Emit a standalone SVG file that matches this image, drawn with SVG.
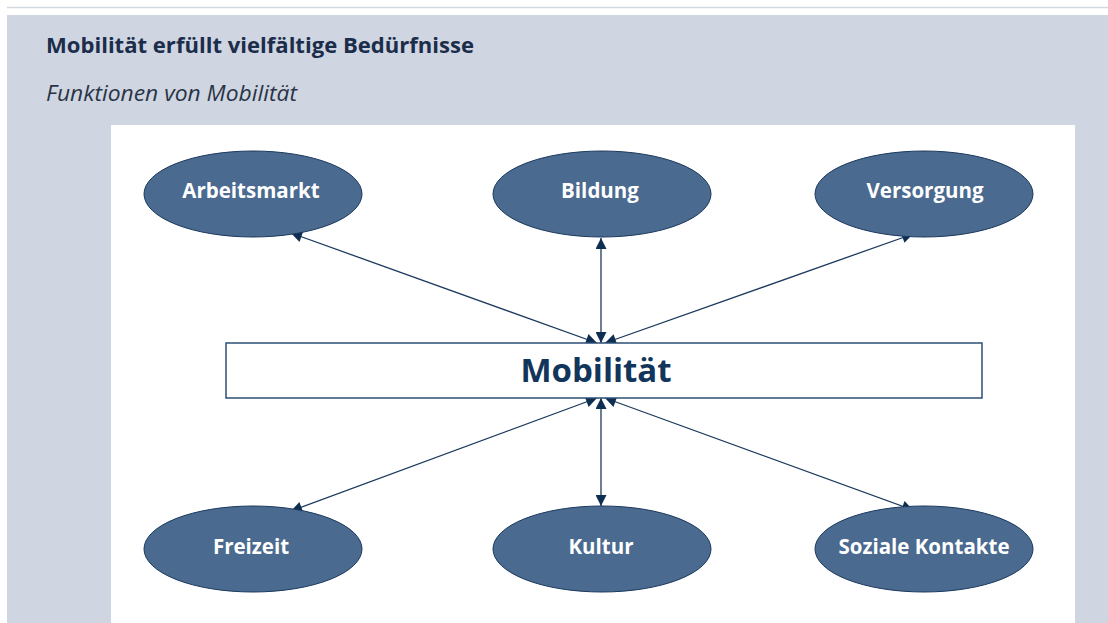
<svg xmlns="http://www.w3.org/2000/svg" width="1108" height="623" viewBox="0 0 1108 623">
<style>
.node ellipse{fill:#4a6a8f;stroke:#1c3a5e;stroke-width:1}
.node text{font-family:"Open Sans","Noto Sans",sans-serif;font-weight:bold;font-size:20.5px;fill:#ffffff;text-anchor:middle}
.conn line{stroke:#1c3a5e;stroke-width:1.3;marker-start:url(#ah);marker-end:url(#ah)}
</style>
<defs>
<marker id="ah" viewBox="0 0 10 10" refX="10" refY="5" markerWidth="15" markerHeight="11" markerUnits="userSpaceOnUse" orient="auto-start-reverse">
<path d="M0,0 L10,5 L0,10 Z" fill="#0f2f52"/>
</marker>
</defs>
<rect x="0" y="0" width="1108" height="623" fill="#ffffff"/>
<line x1="7" y1="7.5" x2="1108" y2="7.5" stroke="#d3d9e1" stroke-width="1.5"/>
<rect x="7" y="15" width="1101" height="608" fill="#cfd6e1"/>
<rect x="111" y="125" width="964" height="498" fill="#ffffff"/>
<text x="46" y="53" font-family="Open Sans, Noto Sans, sans-serif" font-weight="bold" font-size="21" fill="#1b2d4a" textLength="428" lengthAdjust="spacingAndGlyphs">Mobilität erfüllt vielfältige Bedürfnisse</text>
<text x="46" y="101" font-family="Open Sans, Noto Sans, sans-serif" font-style="italic" font-size="21" fill="#2a3447" textLength="251" lengthAdjust="spacingAndGlyphs">Funktionen von Mobilität</text>
<g id="connectors" class="conn">
<line x1="291" y1="233" x2="597" y2="343"/>
<line x1="601" y1="238" x2="601" y2="343"/>
<line x1="913" y1="234" x2="605" y2="343"/>
<line x1="597" y1="398" x2="291" y2="511"/>
<line x1="601" y1="398" x2="601" y2="506"/>
<line x1="605" y1="398" x2="913" y2="510"/>
</g>
<g id="mobilitaet">
<rect x="226" y="343" width="756" height="55" fill="#ffffff" stroke="#2c4f75" stroke-width="1.5"/>
<text x="596" y="382" font-family="Open Sans, Noto Sans, sans-serif" font-weight="bold" font-size="33" fill="#12355b" text-anchor="middle">Mobilität</text>
</g>
<g id="arbeitsmarkt" class="node"><ellipse cx="253" cy="194" rx="109" ry="43"/><text x="251" y="198">Arbeitsmarkt</text></g>
<g id="bildung" class="node"><ellipse cx="602" cy="194" rx="109" ry="43"/><text x="600" y="198">Bildung</text></g>
<g id="versorgung" class="node"><ellipse cx="924" cy="194" rx="109" ry="43"/><text x="925" y="198">Versorgung</text></g>
<g id="freizeit" class="node"><ellipse cx="253" cy="549" rx="109" ry="43"/><text x="251" y="554">Freizeit</text></g>
<g id="kultur" class="node"><ellipse cx="602" cy="549" rx="109" ry="43"/><text x="601" y="554">Kultur</text></g>
<g id="soziale" class="node"><ellipse cx="924" cy="549" rx="109" ry="43"/><text x="924" y="554">Soziale Kontakte</text></g>
</svg>
